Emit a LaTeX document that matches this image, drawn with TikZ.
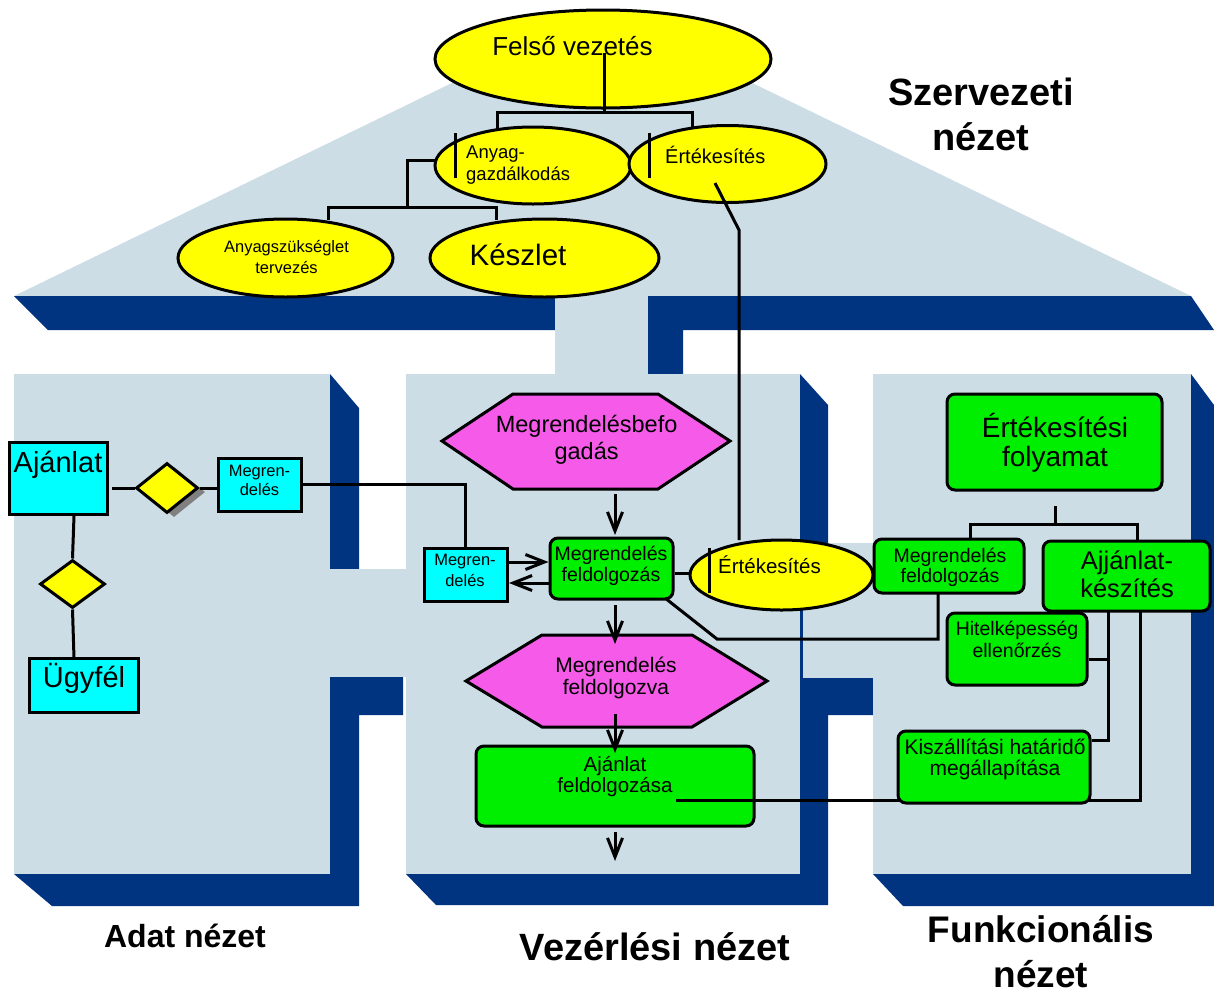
\documentclass[tikz,border=0pt]{standalone}
\usepackage{fontspec}
\setmainfont{Liberation Sans}
\usetikzlibrary{shapes.geometric,arrows.meta}
\definecolor{pan}{RGB}{204,221,230}
\definecolor{navy}{RGB}{0,51,128}
\definecolor{cyel}{RGB}{255,255,0}
\definecolor{ccyan}{RGB}{0,255,255}
\definecolor{cgreen}{RGB}{0,238,0}
\definecolor{cmag}{RGB}{245,90,232}
\definecolor{shad}{RGB}{128,128,128}
\newcommand{\fz}[2]{\fontsize{#1pt}{#2pt}\selectfont}
\begin{document}
\begin{tikzpicture}[x=1pt,y=-1pt,
  ln/.style={line width=3pt},
  ell/.style={ellipse,draw,fill=cyel,line width=3pt,inner sep=0pt},
  cbox/.style={rectangle,draw,fill=ccyan,line width=3pt,inner sep=0pt},
  gbox/.style={rectangle,rounded corners=8pt,draw,fill=cgreen,line width=3pt,inner sep=0pt},
  dia/.style={diamond,draw,fill=cyel,line width=3pt,inner sep=0pt},
  hexa/.style={fill=cmag,draw,line width=3pt,line join=miter},
  txt/.style={inner sep=0pt,align=center},
  ttl/.style={inner sep=0pt,align=center},
  arr/.style={line width=3pt,-{Straight Barb[length=19pt,width=15pt]}}
]
\useasboundingbox (0,0) rectangle (1214,994);

% ---------- backgrounds ----------
\fill[pan] (14,296) -- (602,10) -- (1191,296) -- cycle;
\fill[navy] (14,296) -- (555,296) -- (555,330) -- (48,330) -- cycle;
\fill[pan] (555,296) rectangle (648,375);
\fill[navy] (648,296) -- (1191,296) -- (1214,330) -- (683,330) -- (683,375) -- (648,375) -- cycle;

% left panel
\fill[navy] (330,374) -- (359,408) -- (359,569) -- (330,569) -- cycle;
\fill[navy] (330,677) -- (403,677) -- (403,715) -- (359,715) -- (359,906) -- (52,906) -- (14,874) -- (330,874) -- cycle;
\fill[pan] (14,374) rectangle (330,874);
\fill[pan] (330,569) rectangle (407,677);

% middle panel
\fill[navy] (800,374) -- (828,405) -- (828,543) -- (800,543) -- cycle;
\fill[navy] (800,678) -- (877,678) -- (877,715) -- (828,715) -- (828,905) -- (436,905) -- (406,874) -- (800,874) -- cycle;
\fill[pan] (406,374) rectangle (800,874);
\fill[pan] (800,543) rectangle (874,678);
\draw[navy,line width=2.5pt] (801.5,543) -- (801.5,678);

% right panel
\fill[navy] (1191,374) -- (1214,405) -- (1214,906) -- (903,906) -- (873,874) -- (1191,874) -- cycle;
\fill[pan] (873,374) rectangle (1191,874);

% ---------- organisational view ----------
\node[ell,minimum width=336pt,minimum height=98pt] (fv) at (603,59) {};
\node[txt,anchor=base,font=\fz{26}{30}] (tfv) at (572.5,55) {Felső vezetés};
\node[ell,minimum width=196pt,minimum height=77pt] (ag) at (533,165.5) {};
\node[ell,minimum width=197pt,minimum height=77pt] (et) at (727.5,164) {};
\node[ell,minimum width=215pt,minimum height=78pt] (asz) at (285.5,258) {};
\node[ell,minimum width=229pt,minimum height=78pt] (ksz) at (544.5,258) {};

\node[txt,anchor=west,align=left,font=\fz{18.5}{22}] (tag) at (466,165.4) {Anyag-\\gazdálkodás};
\node[txt,anchor=base west,font=\fz{20}{24}] (tet) at (665,163) {Értékesítés};
\node[txt,font=\fz{16.5}{21}] (tasz) at (286.5,256.5) {Anyagszükséglet\\tervezés};
\node[txt,anchor=base,font=\fz{29.5}{34}] (tksz) at (518,265) {Készlet};
\draw[ln] (455,133) -- (455,178);
\draw[ln] (649,133) -- (649,178);

\coordinate (fvc) at (604,53);
\draw[ln] (fvc) -- (604,112);
\draw[ln] (497,129) -- (497,112) -- (692,112) -- (692,128);
\draw[ln] (436,160) -- (407,160) -- (407,207);
\draw[ln] (328,220) -- (328,207) -- (496,207) -- (496,220);

\node[ttl,font=\fz{38}{45}\bfseries] (tsz) at (981,114) {Szervezeti\\nézet};

% ---------- data view ----------
\node[cbox,minimum width=98pt,minimum height=72pt] (ajl) at (58,478) {};
\node[txt,anchor=base,font=\fz{29}{33}] (tajl) at (58,472) {Ajánlat};
\node[cbox,minimum width=109pt,minimum height=54pt] (ugy) at (83.5,685) {};
\node[txt,anchor=base,font=\fz{29}{33}] (tugy) at (84,687) {Ügyfél};
\node[cbox,minimum width=83pt,minimum height=53pt] (mg1) at (259.5,484.5) {};
\node[txt,font=\fz{16.5}{19.5}] (tmg1) at (259.5,480.6) {Megren-\\delés};
\node[diamond,fill=shad,inner sep=0pt,minimum width=62pt,minimum height=50pt,aspect=1.24] (d1s) at (174,492) {};
\node[dia,minimum width=62pt,minimum height=50pt,aspect=1.24] (d1) at (167,488) {};
\node[dia,minimum width=65pt,minimum height=48pt,aspect=1.35] (d2) at (72.5,584) {};

\coordinate (ajr) at (112,488);
\draw[ln] (ajr) -- (d1.west);
\draw[ln] (d1.east) -- (mg1.west |- d1.east);
\coordinate (ajb) at (74,516);
\draw[ln] (ajb) -- (d2.north);
\draw[ln] (d2.south) -- (74,658);

% ---------- control view ----------
\draw[hexa] (442,441) -- (513,394) -- (658,394) -- (730,441) -- (658,489) -- (513,489) -- cycle;
\node[txt,font=\fz{23.5}{27}] (h1) at (586.6,440.2) {Megrendelésbefo\\gadás};
\node[gbox,minimum width=123pt,minimum height=61pt] (mf1) at (611.5,568.5) {};
\node[txt,font=\fz{19.5}{21}] (tmf1) at (611,566.3) {Megrendelés\\feldolgozás};
\node[cbox,minimum width=83pt,minimum height=53pt] (mg2) at (465.5,574.5) {};
\node[txt,font=\fz{16.5}{20.5}] (tmg2) at (465,570.5) {Megren-\\delés};
\draw[hexa] (466,681) -- (542,635) -- (692,635) -- (767,681) -- (692,727) -- (542,727) -- cycle;
\node[txt,font=\fz{21}{22}] (h2) at (616,677.5) {Megrendelés\\feldolgozva};
\node[gbox,minimum width=278pt,minimum height=80pt] (af) at (615,786) {};
\node[txt,font=\fz{20.5}{21}] (taf) at (615,776.2) {Ajánlat\\feldolgozása};
\node[ell,minimum width=183pt,minimum height=70pt] (et2) at (781.5,575) {};
\node[txt,anchor=base west,font=\fz{20.5}{24}] (tet2) at (718,573) {Értékesítés};
\draw[ln] (709,548) -- (709,593);

% ---------- functional view ----------
\node[gbox,minimum width=215pt,minimum height=96pt] (ef) at (1054.5,442) {};
\node[txt,font=\fz{28}{29}] (tef) at (1055,443) {Értékesítési\\folyamat};
\node[gbox,minimum width=150pt,minimum height=54pt] (mf2) at (949,566) {};
\node[txt,font=\fz{19.5}{20}] (tmf2) at (950,567) {Megrendelés\\feldolgozás};
\node[gbox,minimum width=167pt,minimum height=70pt] (ak) at (1126.5,576) {};
\node[txt,font=\fz{25.5}{28}] (tak) at (1127,574.5) {Ajjánlat-\\készítés};
\node[gbox,minimum width=140pt,minimum height=72pt] (hk) at (1017,649) {};
\node[txt,font=\fz{19.5}{22}] (thk) at (1017,639) {Hitelképesség\\ellenőrzés};

% connectors
\draw[ln] (mg1.east) -| (mg2.north);
\draw[arr] (615,494) -- (615,535);
\draw[arr] (508,562) -- (mf1.west |- 0,562);
\draw[arr] (mf1.west |- 0,583) -- (509,583);
\draw[arr] (615,605) -- (615,644);
\draw[arr] (615,714) -- (615,753);
\draw[arr] (615,832) -- (615,861);
\draw[ln] (mf1.east |- 0,573) -- (et2.west |- 0,573);
\draw[ln] (715,183) -- (739,230) -- (739,540);
\draw[ln] (665,598) -- (717,639) -- (938,639) -- (938,593);
\draw[ln] (676,800) -- (1140,800) -- (1140,611);

\node[gbox,minimum width=192pt,minimum height=72pt] (kh) at (994,767) {};
\node[txt,font=\fz{21}{21}] (tkh) at (995,759.2) {Kiszállítási határidő\\megállapítása};

\draw[ln] (1055,506) -- (1055,524);
\draw[ln] (970,539) -- (970,524) -- (1137,524) -- (1137,541);
\draw[ln] (1108,611) -- (1108,740) -- (kh.east |- 0,740);
\draw[ln] (1108,659) -- (hk.east |- 0,659);

% ---------- bottom titles ----------
\node[ttl,anchor=base,font=\fz{32}{36}\bfseries] (tad) at (185,947) {Adat nézet};
\node[ttl,anchor=base,font=\fz{38}{44}\bfseries] (tvz) at (655,960) {Vezérlési nézet};
\node[ttl,font=\fz{37}{45}\bfseries] (tfn) at (1041,951.5) {Funkcionális\\nézet};
\end{tikzpicture}
\end{document}
